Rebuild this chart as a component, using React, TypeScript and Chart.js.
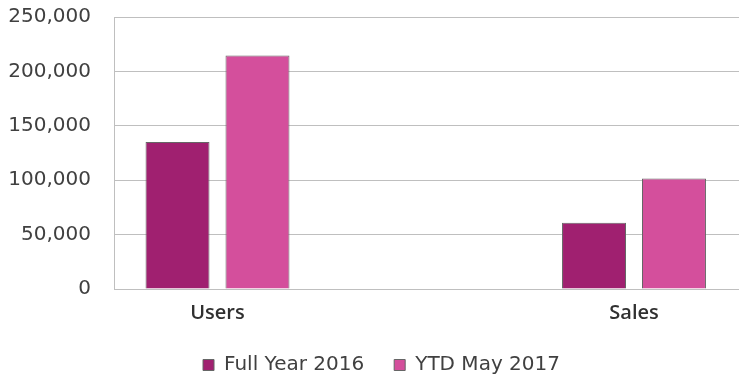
import React, { useEffect, useRef } from "react";
import { Chart, registerables } from "chart.js";

Chart.register(...registerables);

const categories = ["Users", "Sales"];
const seriesNames = ["Full Year 2016", "YTD May 2017"];
const fullYear2016 = [135000, 61000];
const ytdMay2017 = [214500, 101500];
const yTicks = [0, 50000, 100000, 150000, 200000, 250000];

const xMin = -0.2485;
const xMax = 1.2521;

const legendShift = {
  id: "legendShift",
  afterLayout(chart: any) {
    const l = chart.legend;
    if (l) {
      l.left += 12;
      l.right += 12;
    }
  },
};

export default function App() {
  const ref = useRef<HTMLCanvasElement | null>(null);

  useEffect(() => {
    document.body.style.margin = "0";
    const canvas = ref.current;
    if (!canvas) return;
    const chart = new Chart(canvas, {
      type: "bar",
      data: {
        datasets: [
          {
            label: seriesNames[0],
            data: fullYear2016.map((y, i) => ({ x: i, y })),
            backgroundColor: "#A02070",
            borderColor: "#666666",
            borderWidth: 1,
            categoryPercentage: 0.384,
            barPercentage: 0.8,
          },
          {
            label: seriesNames[1],
            data: ytdMay2017.map((y, i) => ({ x: i, y })),
            backgroundColor: "#D44F9C",
            borderColor: "#666666",
            borderWidth: 1,
            categoryPercentage: 0.384,
            barPercentage: 0.8,
          },
        ],
      },
      plugins: [legendShift],
      options: {
        animation: false,
        responsive: false,
        maintainAspectRatio: false,
        layout: { padding: { top: 17, right: 5, left: 0, bottom: 0 } },
        plugins: {
          tooltip: { enabled: false },
          legend: {
            position: "bottom",
            labels: {
              boxWidth: 11,
              boxHeight: 11,
              padding: 30,
              color: "#404040",
              font: { family: "DejaVu Sans", size: 20 },
            },
          },
        },
        scales: {
          x: {
            type: "linear",
            bounds: "data",
            offset: false,
            min: xMin,
            max: xMax,
            grid: { display: false, drawTicks: false },
            border: { display: false },
            afterDataLimits: (scale: any) => {
              scale.min = xMin;
              scale.max = xMax;
            },
            afterBuildTicks: (scale: any) => {
              scale.ticks = categories.map((_, i) => ({ value: i }));
            },
            afterFit: (scale: any) => {
              scale.height = 36;
              scale.paddingLeft = 0;
              scale.paddingRight = 0;
            },
            ticks: {
              padding: 12,
              color: "#303030",
              font: { family: "Open Sans", size: 20, weight: "600" },
              callback: (v: any) => categories[v as number] ?? "",
            },
          },
          y: {
            min: 0,
            max: 250000,
            afterBuildTicks: (scale: any) => {
              scale.ticks = yTicks.map((v) => ({ value: v }));
            },
            afterFit: (scale: any) => {
              scale.width = 114;
              scale.paddingTop = 0;
              scale.paddingBottom = 0;
            },
            grid: { color: "#BFBFBF", drawTicks: false, lineWidth: 1 },
            border: { display: true, color: "#BFBFBF" },
            ticks: {
              padding: 23,
              color: "#404040",
              font: { family: "DejaVu Sans", size: 20 },
              callback: (v: any) => Number(v).toLocaleString("en-US"),
            },
          },
        },
      },
    } as any);
    return () => chart.destroy();
  }, []);

  return (
    <div style={{ position: "absolute", left: 0, top: 0, width: 744, height: 385 }}>
      <canvas ref={ref} width={744} height={385} style={{ width: 744, height: 385 }} />
    </div>
  );
}
